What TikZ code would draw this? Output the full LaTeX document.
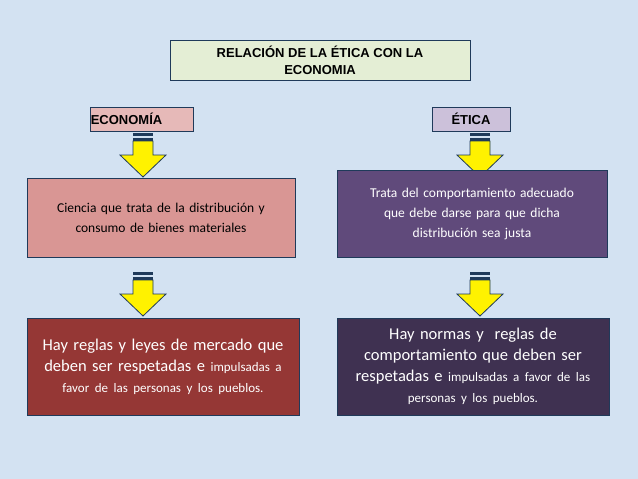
\documentclass[tikz,border=0pt]{standalone}
\usepackage{fontspec}
\setmainfont{Carlito}
\newfontfamily\arialfont{Liberation Sans}
\definecolor{bgblue}{HTML}{D3E2F2}
\definecolor{navy}{HTML}{1F3A5A}
\definecolor{titlegreen}{HTML}{E4EED5}
\definecolor{pinkhead}{HTML}{E6B9B8}
\definecolor{lavhead}{HTML}{CCC1DA}
\definecolor{rose}{HTML}{D99694}
\definecolor{plum}{HTML}{604A7B}
\definecolor{brick}{HTML}{953735}
\definecolor{grape}{HTML}{3F3151}
\tikzset{
  frame/.style={draw=navy, line width=1pt},
  head/.style={frame, font=\arialfont\bfseries\fontsize{13}{17}\selectfont, inner sep=0pt, align=center},
  textbox/.style={frame, align=center, inner sep=2pt},
}
\newcommand{\smalltxt}{\fontsize{13}{21}\selectfont}
\newcommand{\downarrowdraw}[2]{% x, top y
  \fill[yellow, draw=navy, line width=0.8pt] (#1-10,#2+8) -- (#1+10,#2+8) -- (#1+10,#2+22) -- (#1+23,#2+22)
    -- (#1,#2+44) -- (#1-23,#2+22) -- (#1-10,#2+22) -- cycle;
  \fill[navy] (#1-10,#2) rectangle (#1+10,#2+3);
  \fill[navy] (#1-10,#2+5) rectangle (#1+10,#2+8);
}
\begin{document}
\begin{tikzpicture}[x=1pt,y=-1pt]
\fill[bgblue] (0,0) rectangle (638,479);
\useasboundingbox (0,0) rectangle (638,479);
% titles
\node[head, fill=titlegreen, minimum width=300pt, minimum height=40pt] (title) at (320,60)
  {RELACIÓN DE LA ÉTICA CON LA\\ECONOMIA};
\node[head, fill=pinkhead, minimum width=103pt, minimum height=24pt] (econ) at (141.5,119) {\hspace*{-30pt}ECONOMÍA};
\node[head, fill=lavhead, minimum width=78pt, minimum height=24pt] (etica) at (471,119) {ÉTICA};
% arrows
\downarrowdraw{143}{133}
\downarrowdraw{143}{272}
\downarrowdraw{480}{133}
\downarrowdraw{480}{272}
% boxes
\node[textbox, fill=rose, minimum width=268pt, minimum height=79pt, text width=260pt, font=\fontsize{13.5}{20}\selectfont] (ciencia) at (161,217.5)
  {Ciencia que trata de la distribución y\\consumo de bienes materiales};
\node[textbox, fill=plum, text=white, minimum width=270pt, minimum height=87pt, text width=262pt, font=\fontsize{13.5}{20}\selectfont] (trata) at (472,213.5)
  {Trata del comportamiento adecuado\\que debe darse para que dicha\\distribución sea justa};
\node[textbox, fill=brick, text=white, minimum width=272pt, minimum height=97pt, text width=266pt, font=\fontsize{16.5}{21}\selectfont] (mercado) at (163,366.5)
  {Hay reglas y leyes de mercado que\\deben ser respetadas e {\smalltxt impulsadas a}\\{\smalltxt favor de las personas y los pueblos.}};
\node[textbox, fill=grape, text=white, minimum width=272pt, minimum height=97pt, text width=266pt, font=\fontsize{16.5}{21}\selectfont] (normas) at (473,366.5)
  {Hay normas y\ \ reglas de\\comportamiento que deben ser\\respetadas e {\smalltxt impulsadas a favor de las}\\{\smalltxt personas y los pueblos.}};
\end{tikzpicture}
\end{document}
